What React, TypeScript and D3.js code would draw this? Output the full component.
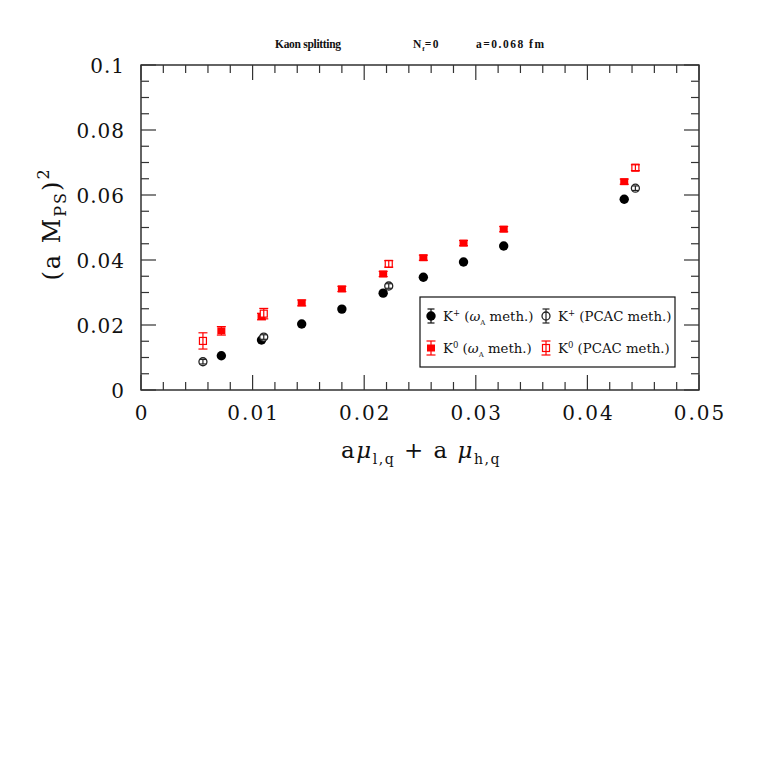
import React, { useEffect, useRef } from 'react';
import * as d3 from 'd3';

// K+ (omega_A method)
const kpOmegaX = [0.0072, 0.0108, 0.0144, 0.018, 0.0217, 0.0253, 0.0289, 0.0325, 0.0433];
const kpOmegaY = [0.01055, 0.0154, 0.0203, 0.0249, 0.0298, 0.0347, 0.0394, 0.0443, 0.0587];
const kpOmegaErr = [0.0003, 0.0003, 0.0003, 0.0003, 0.0003, 0.0003, 0.0003, 0.0003, 0.0003];

// K+ (PCAC method)
const kpPcacX = [0.00555, 0.011, 0.0222, 0.0443];
const kpPcacY = [0.0087, 0.0163, 0.032, 0.0621];
const kpPcacErr = [0.0007, 0.0007, 0.0007, 0.0007];

// K0 (omega_A method)
const k0OmegaX = [0.0072, 0.0108, 0.0144, 0.018, 0.0217, 0.0253, 0.0289, 0.0325, 0.0433];
const k0OmegaY = [0.0182, 0.0226, 0.0268, 0.0311, 0.0357, 0.0407, 0.0452, 0.0495, 0.0641];
const k0OmegaErr = [0.0013, 0.001, 0.0009, 0.0008, 0.0008, 0.0008, 0.0008, 0.0008, 0.0008];

// K0 (PCAC method)
const k0PcacX = [0.00555, 0.011, 0.0222, 0.0443];
const k0PcacY = [0.0151, 0.0235, 0.0388, 0.0684];
const k0PcacErr = [0.0025, 0.0016, 0.001, 0.0009];

const xMajor = [0, 0.01, 0.02, 0.03, 0.04, 0.05];
const yMajor = [0, 0.02, 0.04, 0.06, 0.08, 0.1];
const xLabels = ['0', '0.01', '0.02', '0.03', '0.04', '0.05'];
const yLabels = ['0', '0.02', '0.04', '0.06', '0.08', '0.1'];

const W = 763;
const H = 763;
const left = 141, right = 699, top = 65, bottom = 390;
const RED = '#ff0000';
const INK = '#111';
const SERIF = '"DejaVu Serif", serif';
const TITLE_FONT = '"Liberation Serif", serif';

export default function App() {
  const ref = useRef<SVGSVGElement>(null);

  useEffect(() => {
    if (!ref.current) return;
    const svg = d3.select(ref.current);
    svg.selectAll('*').remove();

    const x = d3.scaleLinear().domain([0, 0.05]).range([left, right]);
    const y = d3.scaleLinear().domain([0, 0.1]).range([bottom, top]);

    // frame
    svg.append('rect')
      .attr('x', left).attr('y', top)
      .attr('width', right - left).attr('height', bottom - top)
      .attr('fill', 'none').attr('stroke', INK).attr('stroke-width', 1.3);

    const g = svg.append('g').attr('stroke', '#333').attr('stroke-width', 1.2);
    // x ticks (bottom + top)
    d3.range(0, 26).forEach(i => {
      const v = i * 0.002;
      const len = i % 5 === 0 ? 15 : 8;
      const px = x(v);
      g.append('line').attr('x1', px).attr('x2', px).attr('y1', bottom).attr('y2', bottom - len);
      g.append('line').attr('x1', px).attr('x2', px).attr('y1', top).attr('y2', top + len);
    });
    // y ticks (left + right)
    d3.range(0, 21).forEach(i => {
      const v = i * 0.005;
      const len = i % 4 === 0 ? 15 : 8;
      const py = y(v);
      g.append('line').attr('y1', py).attr('y2', py).attr('x1', left).attr('x2', left + len);
      g.append('line').attr('y1', py).attr('y2', py).attr('x1', right).attr('x2', right - len);
    });

    // tick labels
    svg.append('g').selectAll('text').data(xMajor).enter().append('text')
      .attr('x', d => x(d) + 1).attr('y', 420)
      .attr('text-anchor', 'middle')
      .attr('font-family', SERIF).attr('font-size', 20).attr('letter-spacing', 2)
      .attr('fill', INK)
      .text((d, i) => xLabels[i]);
    svg.append('g').selectAll('text').data(yMajor).enter().append('text')
      .attr('x', 125).attr('y', d => y(d) + 8)
      .attr('text-anchor', 'end')
      .attr('font-family', SERIF).attr('font-size', 20).attr('letter-spacing', 1)
      .attr('fill', INK)
      .text((d, i) => yLabels[i]);

    // markers
    const errBar = (sel: any, cx: number, cy0: number, cy1: number, color: string, cap: number) => {
      sel.append('line').attr('x1', cx).attr('x2', cx).attr('y1', cy0).attr('y2', cy1)
        .attr('stroke', color).attr('stroke-width', 1.2);
      [cy0, cy1].forEach(cy => sel.append('line')
        .attr('x1', cx - cap).attr('x2', cx + cap).attr('y1', cy).attr('y2', cy)
        .attr('stroke', color).attr('stroke-width', 1.2));
    };

    const drawFilledCircle = (sel: any, cx: number, cy: number, e0: number, e1: number) => {
      errBar(sel, cx, e0, e1, INK, 3.5);
      sel.append('circle').attr('cx', cx).attr('cy', cy).attr('r', 4.7).attr('fill', '#000');
    };
    const drawOpenCircle = (sel: any, cx: number, cy: number, e0: number, e1: number) => {
      sel.append('circle').attr('cx', cx).attr('cy', cy).attr('r', 4)
        .attr('fill', 'white').attr('stroke', '#222').attr('stroke-width', 1.3);
      errBar(sel, cx, e0, e1, '#222', 3.5);
    };
    const drawFilledSquare = (sel: any, cx: number, cy: number, e0: number, e1: number) => {
      errBar(sel, cx, e0, e1, RED, 4.5);
      sel.append('rect').attr('x', cx - 4).attr('y', cy - 3.5).attr('width', 8).attr('height', 7)
        .attr('fill', RED);
    };
    const drawOpenSquare = (sel: any, cx: number, cy: number, e0: number, e1: number) => {
      sel.append('rect').attr('x', cx - 3.5).attr('y', cy - 3.5).attr('width', 7).attr('height', 7)
        .attr('fill', 'white').attr('stroke', RED).attr('stroke-width', 1.2);
      errBar(sel, cx, e0, e1, RED, 4.5);
    };

    const series = [
      { xs: kpOmegaX, ys: kpOmegaY, es: kpOmegaErr, draw: drawFilledCircle },
      { xs: kpPcacX, ys: kpPcacY, es: kpPcacErr, draw: drawOpenCircle },
      { xs: k0OmegaX, ys: k0OmegaY, es: k0OmegaErr, draw: drawFilledSquare },
      { xs: k0PcacX, ys: k0PcacY, es: k0PcacErr, draw: drawOpenSquare },
    ];
    const pts = svg.append('g');
    series.forEach(s => {
      s.xs.forEach((xv, i) => {
        const gg = pts.append('g');
        s.draw(gg, x(xv), y(s.ys[i]), y(s.ys[i] + s.es[i]), y(s.ys[i] - s.es[i]));
      });
    });

    // legend
    const lg = svg.append('g');
    lg.append('rect').attr('x', 420).attr('y', 297).attr('width', 255).attr('height', 70)
      .attr('fill', 'white').attr('stroke', INK).attr('stroke-width', 1.2);
    const legendItems = [
      { sx: 431, sy: 316, draw: drawFilledCircle, base: 'K', sup: '+', note: ['(', 'ω', 'A', ' meth.)'] },
      { sx: 546, sy: 316, draw: drawOpenCircle, base: 'K', sup: '+', note: ['(PCAC meth.)'] },
      { sx: 431, sy: 348, draw: drawFilledSquare, base: 'K', sup: '0', note: ['(', 'ω', 'A', ' meth.)'] },
      { sx: 546, sy: 348, draw: drawOpenSquare, base: 'K', sup: '0', note: ['(PCAC meth.)'] },
    ];
    legendItems.forEach(it => {
      const gg = lg.append('g');
      it.draw(gg, it.sx, it.sy, it.sy - 7, it.sy + 7);
      const t = lg.append('text').attr('x', it.sx + 12).attr('y', it.sy + 5)
        .attr('font-family', SERIF).attr('font-size', 13.3)
        .attr('fill', INK);
      t.append('tspan').text(it.base);
      t.append('tspan').attr('dy', -5).attr('font-size', 8.5).text(it.sup);
      if (it.note.length === 1) {
        t.append('tspan').attr('dy', 5).text(' ' + it.note[0]);
      } else {
        t.append('tspan').attr('dy', 5).text(' ' + it.note[0]);
        t.append('tspan').attr('font-style', 'italic').text(it.note[1]);
        t.append('tspan').attr('dy', 4).attr('font-size', 7).text(it.note[2]);
        t.append('tspan').attr('dy', -4).text(it.note[3]);
      }
    });

    // title
    const title = svg.append('text').attr('y', 48).attr('font-family', TITLE_FONT)
      .attr('font-size', 11.5).attr('font-weight', 'bold').attr('fill', INK);
    title.append('tspan').attr('x', 275).attr('letter-spacing', -0.3).text('Kaon splitting');
    title.append('tspan').attr('x', 413).attr('letter-spacing', 1).text('N');
    title.append('tspan').attr('dy', 3).attr('font-size', 7).text('f');
    title.append('tspan').attr('dy', -3).attr('letter-spacing', 1.5).text('=0');
    title.append('tspan').attr('x', 476).attr('letter-spacing', 1.5).text('a=0.068 fm');

    // x label
    const xl = svg.append('text').attr('x', 421).attr('y', 458).attr('text-anchor', 'middle')
      .attr('font-family', SERIF).attr('font-size', 23).attr('letter-spacing', 1.5).attr('fill', INK);
    xl.append('tspan').text('a');
    xl.append('tspan').attr('font-style', 'italic').text('μ');
    xl.append('tspan').attr('dy', 6).attr('font-size', 14).text('l,q');
    xl.append('tspan').attr('dy', -6).text('  +  a  ');
    xl.append('tspan').attr('font-style', 'italic').text('μ');
    xl.append('tspan').attr('dy', 6).attr('font-size', 14).text('h,q');

    // y label
    const yl = svg.append('text')
      .attr('transform', 'translate(60,224) rotate(-90)')
      .attr('text-anchor', 'middle')
      .attr('font-family', SERIF).attr('font-size', 24).attr('letter-spacing', 2).attr('fill', INK);
    yl.append('tspan').text('(a  M');
    yl.append('tspan').attr('dy', 6).attr('font-size', 16).text('PS');
    yl.append('tspan').attr('dy', -6).text(')');
    yl.append('tspan').attr('dy', -11).attr('font-size', 16).text('2');
  }, []);

  return (
    <svg ref={ref} width={W} height={H}
      style={{ position: 'absolute', left: 0, top: 0, background: 'white' }} />
  );
}
